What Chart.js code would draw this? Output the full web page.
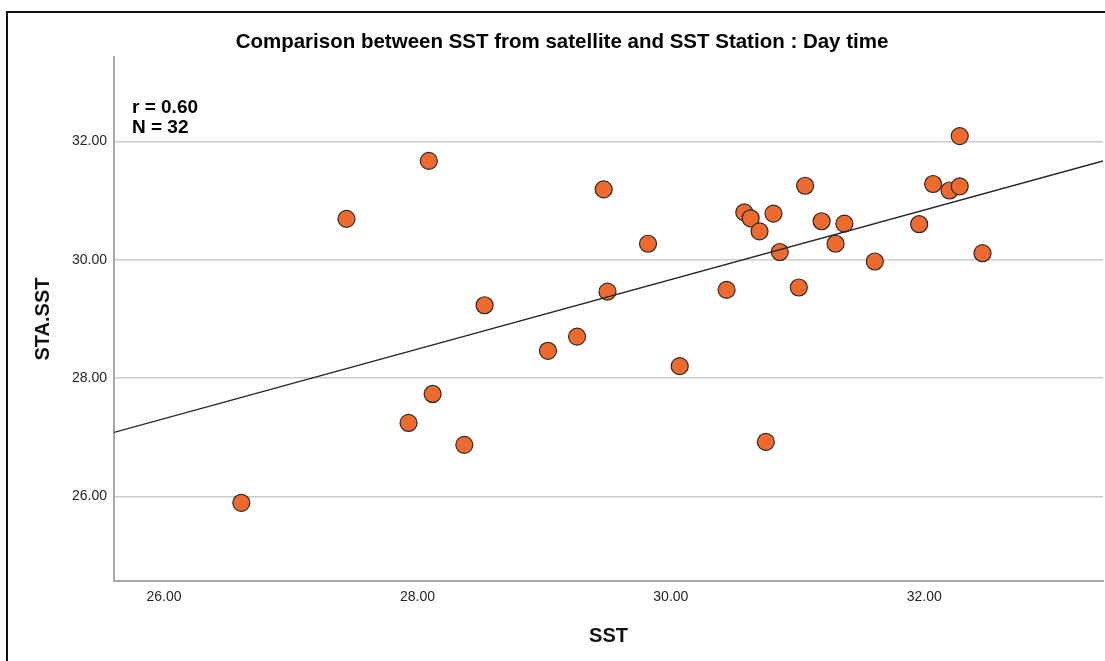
<!DOCTYPE html>
<html>
<head>
<meta charset="utf-8">
<script src="https://cdn.jsdelivr.net/npm/chart.js@4.4.1/dist/chart.umd.min.js"></script>
<style>
  html, body { margin: 0; padding: 0; background: #ffffff; }
  #page { position: relative; width: 1105px; height: 661px; overflow: hidden; }
  #frame {
    position: absolute;
    left: 6px;
    top: 11px;
    width: 1200px;
    height: 800px;
    border-left: 2px solid #111111;
    border-top: 2px solid #111111;
  }
  #chart { position: absolute; left: 0; top: 0; }
</style>
</head>
<body>
<div id="page">
  <div id="frame"></div>
  <canvas id="chart" width="1105" height="661"></canvas>
</div>
<script>
// satellite SST (x) and station SST (y)
const sstSatellite = [
  26.61, 27.44, 27.93, 28.09, 28.12, 28.37, 28.53, 29.03,
  29.26, 29.47, 29.50, 29.82, 30.07, 30.44, 30.58, 30.63,
  30.70, 30.75, 30.81, 30.86, 31.01, 31.06, 31.19, 31.30,
  31.37, 31.61, 31.96, 32.07, 32.20, 32.28, 32.28, 32.46,
];
const sstStation = [
  25.89, 30.69, 27.24, 31.67, 27.73, 26.87, 29.23, 28.46,
  28.70, 31.19, 29.46, 30.27, 28.20, 29.49, 30.80, 30.70,
  30.48, 26.92, 30.78, 30.13, 29.53, 31.25, 30.65, 30.27,
  30.61, 29.97, 30.60, 31.28, 31.17, 31.24, 32.09, 30.11,
];

// linear fit, ends at the plot edges
const fitX = [25.605, 33.411];
const fitY = [27.08, 31.67];

const xTicks = [26, 28, 30, 32];
const yTicks = [26, 28, 30, 32];

const statLines = ["r = 0.60", "N = 32"];

const FONT = "'Liberation Sans', Arial, sans-serif";
const POINT_FILL = "#ef6a2c";
const POINT_EDGE = "#2a2a2a";
const AXIS_COLOUR = "#a6a6a6";
const GRID_COLOUR = "#cccccc";
const TEXT_COLOUR = "#262626";

function toPoints(xs, ys) {
  return xs.map((x, i) => ({ x: x, y: ys[i] }));
}

// keep the plot box fixed, labels never push it
function noScalePadding(scale) {
  scale.paddingLeft = 0;
  scale.paddingRight = 0;
  scale.paddingTop = 0;
  scale.paddingBottom = 0;
}

const statsLabel = {
  id: "statsLabel",
  afterDraw(chart) {
    const { ctx, chartArea } = chart;
    ctx.save();
    ctx.font = "bold 19px " + FONT;
    ctx.fillStyle = "#000000";
    ctx.textAlign = "left";
    ctx.textBaseline = "alphabetic";
    statLines.forEach((line, i) => {
      ctx.fillText(line, chartArea.left + 18, chartArea.top + 56 + i * 20);
    });
    ctx.restore();
  },
};

const config = {
  type: "scatter",
  data: {
    datasets: [
      {
        label: "fit",
        data: toPoints(fitX, fitY),
        showLine: true,
        borderColor: "#262626",
        borderWidth: 1.4,
        pointRadius: 0,
        order: 0,
      },
      {
        label: "STA.SST",
        data: toPoints(sstSatellite, sstStation),
        backgroundColor: POINT_FILL,
        borderColor: POINT_EDGE,
        borderWidth: 1.2,
        pointRadius: 8.5,
        order: 1,
      },
    ],
  },
  options: {
    responsive: false,
    animation: false,
    layout: {
      autoPadding: false,
      padding: { left: 21, right: 2, top: 0, bottom: 0 },
    },
    plugins: {
      legend: { display: false },
      tooltip: { enabled: false },
      title: {
        display: true,
        text: "Comparison between SST from satellite and SST Station : Day time",
        color: "#000000",
        font: { family: FONT, size: 20.5, weight: "bold" },
        padding: { top: 30, bottom: 2.4 },
      },
    },
    scales: {
      x: {
        type: "linear",
        position: "bottom",
        min: 25.605,
        max: 33.411,
        afterBuildTicks: (scale) => {
          scale.ticks = xTicks.map((v) => ({ value: v }));
        },
        afterFit: (scale) => {
          scale.height = 80;
          noScalePadding(scale);
        },
        grid: { display: false, drawTicks: false },
        border: { display: true, color: AXIS_COLOUR, width: 2 },
        ticks: {
          color: TEXT_COLOUR,
          font: { family: FONT, size: 14 },
          padding: 8,
          maxRotation: 0,
          callback: (value) => value.toFixed(2),
        },
        title: {
          display: true,
          text: "SST",
          color: "#111111",
          font: { family: FONT, size: 20, weight: "bold" },
          padding: { top: 0, bottom: 13 },
        },
      },
      y: {
        type: "linear",
        position: "left",
        min: 24.568,
        max: 33.427,
        afterBuildTicks: (scale) => {
          scale.ticks = yTicks.map((v) => ({ value: v }));
        },
        afterFit: (scale) => {
          scale.width = 93;
          noScalePadding(scale);
        },
        grid: { color: GRID_COLOUR, lineWidth: 1.5, drawTicks: false },
        border: { display: true, color: AXIS_COLOUR, width: 2 },
        ticks: {
          color: TEXT_COLOUR,
          font: { family: FONT, size: 14 },
          padding: 7,
          callback: (value) => value.toFixed(2),
        },
        title: {
          display: true,
          text: "STA.SST",
          color: "#111111",
          font: { family: FONT, size: 20, weight: "bold" },
          padding: { top: 10, bottom: 0 },
        },
      },
    },
  },
  plugins: [statsLabel],
};

new Chart(document.getElementById("chart").getContext("2d"), config);
</script>
</body>
</html>
